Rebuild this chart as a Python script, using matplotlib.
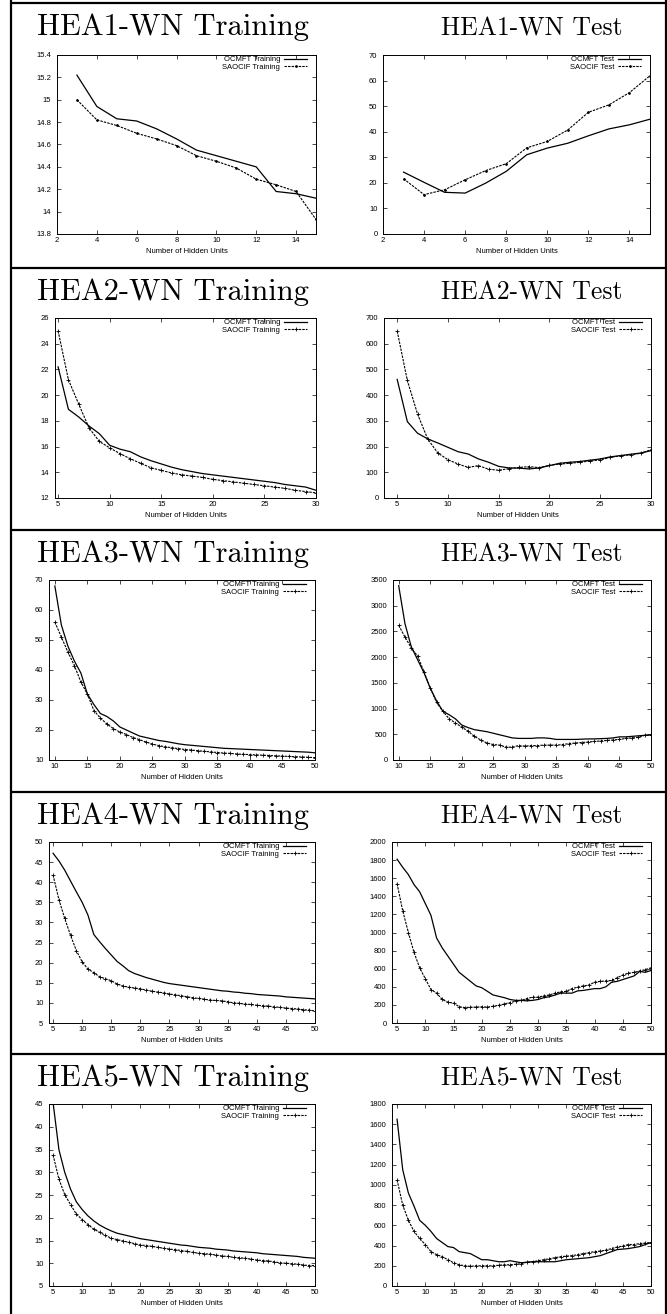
import matplotlib
matplotlib.use('Agg')
import matplotlib.pyplot as plt
from matplotlib.lines import Line2D
from matplotlib.ticker import MultipleLocator, FuncFormatter

W, H = 667, 1314

# HEA1-WN
hea1_units = list(range(3, 16))
hea1_train_ocmft = [15.22, 14.94, 14.83, 14.81, 14.74, 14.65, 14.55, 14.50, 14.45, 14.40, 14.18, 14.16, 14.12]
hea1_train_saocif = [15.00, 14.82, 14.77, 14.70, 14.65, 14.59, 14.50, 14.45, 14.39, 14.29, 14.24, 14.18, 13.93]
hea1_test_ocmft = [24.2, 20.2, 16.3, 16.0, 19.9, 24.5, 31.0, 33.6, 35.5, 38.4, 41.1, 42.7, 44.9]
hea1_test_saocif = [21.6, 15.4, 17.3, 21.2, 24.8, 27.5, 33.7, 36.2, 40.7, 47.6, 50.5, 55.3, 61.9]

# HEA2-WN
hea2_units = list(range(5, 31))
hea2_train_ocmft = [22.2, 18.9, 18.3, 17.6, 17.0, 16.1, 15.8, 15.6, 15.2, 14.9, 14.65, 14.4, 14.2,
                    14.05, 13.9, 13.8, 13.7, 13.6, 13.5, 13.4, 13.3, 13.2, 13.05, 12.95, 12.85, 12.6]
hea2_train_saocif = [25.0, 21.2, 19.3, 17.45, 16.4, 15.9, 15.45, 15.05, 14.7, 14.35, 14.15, 13.95, 13.8,
                     13.7, 13.6, 13.45, 13.35, 13.25, 13.15, 13.05, 12.95, 12.85, 12.75, 12.6, 12.5, 12.4]
hea2_test_ocmft = [461, 297, 252, 230, 214, 197, 180, 171, 152, 139, 123, 117, 116,
                   113, 117, 126, 135, 139, 142, 147, 152, 160, 165, 170, 175, 184]
hea2_test_saocif = [649, 457, 327, 230, 175, 149, 132, 119, 126, 112, 108, 114, 119,
                    122, 118, 127, 132, 135, 139, 144, 148, 158, 164, 168, 174, 188]

# HEA3-WN
hea3_units = list(range(10, 51))
hea3_train_ocmft = [68, 55, 48, 43, 39, 32, 28.5, 25.5, 24.5, 23, 21, 20, 19, 18, 17.5, 17, 16.5, 16.2,
                    15.8, 15.4, 15.1, 14.9, 14.7, 14.5, 14.3, 14.1, 13.9, 13.8, 13.7, 13.6, 13.5, 13.4,
                    13.3, 13.2, 13.1, 13.0, 12.9, 12.8, 12.7, 12.6, 12.4]
hea3_train_saocif = [56, 51, 46, 41.5, 36, 32, 26.5, 24, 22, 20.5, 19.3, 18.5, 17.5, 16.8, 16, 15.3, 14.8,
                     14.4, 14.1, 13.8, 13.5, 13.3, 13.1, 12.9, 12.7, 12.5, 12.3, 12.2, 12.0, 11.9, 11.8,
                     11.7, 11.6, 11.5, 11.4, 11.3, 11.2, 11.1, 11.0, 10.9, 10.8]
hea3_test_ocmft = [3390, 2650, 2200, 1950, 1700, 1400, 1150, 950, 880, 800, 680, 630, 590, 570, 550, 520,
                   490, 460, 430, 420, 420, 420, 430, 430, 420, 400, 400, 400, 400, 405, 410, 410, 415,
                   420, 430, 450, 450, 460, 470, 480, 490]
hea3_test_saocif = [2620, 2390, 2180, 2020, 1720, 1400, 1120, 950, 800, 720, 640, 560, 460, 390, 330, 300,
                    290, 250, 250, 280, 270, 280, 280, 290, 290, 290, 300, 320, 330, 340, 350, 360, 370,
                    380, 390, 400, 420, 430, 440, 480, 480]

# HEA4-WN
hea4_units = list(range(5, 51))
hea4_train_ocmft = [47.2, 45.3, 43, 40.3, 37.6, 35, 31.8, 27, 25.2, 23.5, 21.9, 20.3, 19.2, 18, 17.3, 16.8,
                    16.3, 15.9, 15.5, 15.1, 14.8, 14.6, 14.4, 14.2, 14.0, 13.8, 13.6, 13.4, 13.2, 13.0,
                    12.9, 12.7, 12.6, 12.4, 12.3, 12.1, 12.0, 11.9, 11.8, 11.7, 11.5, 11.4, 11.3, 11.2,
                    11.1, 11.0]
hea4_train_saocif = [41.8, 35.7, 31, 26.8, 23, 20.2, 18.4, 17.5, 16.5, 16, 15.5, 14.7, 14.2, 13.9, 13.7,
                     13.5, 13.2, 12.9, 12.7, 12.5, 12.2, 12.0, 11.8, 11.5, 11.3, 11.1, 10.9, 10.7, 10.6,
                     10.5, 10.3, 10.0, 9.9, 9.7, 9.6, 9.4, 9.3, 9.2, 9.0, 8.9, 8.7, 8.6, 8.5, 8.3, 8.2, 8.0]
hea4_test_ocmft = [1810, 1720, 1640, 1530, 1450, 1320, 1190, 940, 830, 740, 650, 560, 510, 460, 410, 390,
                   350, 310, 295, 280, 260, 250, 250, 245, 250, 260, 280, 290, 310, 330, 330, 330, 355,
                   360, 370, 380, 380, 400, 450, 460, 480, 500, 520, 570, 560, 580]
hea4_test_saocif = [1540, 1240, 1000, 780, 610, 490, 370, 330, 260, 230, 220, 180, 170, 175, 175, 180,
                    175, 185, 195, 210, 225, 240, 250, 270, 285, 285, 300, 310, 330, 345, 350, 380, 395,
                    410, 420, 450, 460, 465, 470, 500, 530, 550, 560, 575, 590, 610]

# HEA5-WN
hea5_units = list(range(5, 51))
hea5_train_ocmft = [45.3, 35, 30, 26.3, 23.5, 21.8, 20.4, 19.3, 18.4, 17.7, 17.1, 16.6, 16.3, 16.0, 15.7,
                    15.4, 15.2, 15.0, 14.8, 14.6, 14.4, 14.2, 14.0, 13.9, 13.7, 13.5, 13.4, 13.3, 13.1,
                    13.0, 12.9, 12.7, 12.6, 12.5, 12.4, 12.3, 12.1, 12.0, 11.9, 11.8, 11.7, 11.6, 11.5,
                    11.3, 11.2, 11.1]
hea5_train_saocif = [33.8, 28.5, 25.1, 22.9, 20.8, 19.6, 18.5, 17.5, 16.8, 16.1, 15.5, 15.2, 14.9, 14.6,
                     14.3, 14.0, 13.9, 13.7, 13.5, 13.3, 13.1, 13.0, 12.8, 12.6, 12.4, 12.2, 12.1, 12.0,
                     11.8, 11.6, 11.5, 11.3, 11.2, 11.1, 10.9, 10.7, 10.6, 10.5, 10.3, 10.1, 10.0, 9.9,
                     9.8, 9.6, 9.5, 9.5]
hea5_test_ocmft = [1650, 1150, 920, 790, 650, 600, 540, 470, 430, 390, 380, 340, 330, 320, 290, 260, 260,
                   250, 240, 240, 250, 240, 230, 235, 240, 240, 240, 240, 240, 250, 260, 265, 270, 275,
                   280, 290, 300, 320, 340, 360, 365, 370, 380, 390, 410, 430]
hea5_test_saocif = [1050, 800, 650, 540, 470, 410, 340, 310, 290, 260, 230, 210, 200, 195, 200, 200, 200,
                    200, 205, 210, 210, 215, 220, 235, 240, 250, 260, 270, 280, 290, 295, 300, 310, 320,
                    330, 340, 345, 355, 370, 385, 395, 410, 410, 420, 425, 430]

plt.rcParams['font.family'] = 'Liberation Sans'
fig = plt.figure(figsize=(W / 100, H / 100), dpi=100)

# row rules of the table, in pixels from the top
row_tops = [3, 268, 530, 792, 1054]


def px_line(x0, y0, x1, y1, lw=1.6):
    fig.add_artist(Line2D([x0 / W, x1 / W], [1 - y0 / H, 1 - y1 / H],
                          color='black', lw=lw, solid_capstyle='butt'))


def draw_panel(box, title, title_x, title_y, title_size, units, ocmft, saocif, kind,
               xlim, xstep, ylim, ystep, pt):
    l, t, r, b = box
    ax = fig.add_axes([l / W, 1 - b / H, (r - l) / W, (b - t) / H])
    ax.plot(units, ocmft, color='black', lw=0.9, label='OCMFT ' + kind)
    ax.plot(units, saocif, color='black', lw=0.8, ls=(0, (2.2, 1.0)),
            marker=pt, ms=2.6, mew=0.6, label='SAOCIF ' + kind)
    ax.set_xlim(xlim)
    ax.set_ylim(ylim)
    ax.xaxis.set_major_locator(MultipleLocator(xstep))
    ax.yaxis.set_major_locator(MultipleLocator(ystep))
    ax.yaxis.set_major_formatter(FuncFormatter(lambda v, p: '%g' % round(v, 6)))
    ax.xaxis.set_major_formatter(FuncFormatter(lambda v, p: '%g' % round(v, 6)))
    ax.tick_params(direction='in', length=3, width=0.5, labelsize=5.5,
                   top=True, right=True, pad=2.5)
    ax.tick_params(axis='y', pad=4)
    for s in ax.spines.values():
        s.set_linewidth(0.7)
    ax.set_xlabel('Number of Hidden Units', fontsize=5.5, labelpad=2.5)
    axw, axh = r - l, b - t
    ax.legend(loc='upper right', bbox_to_anchor=(1 - 9 / axw, 1 - 1 / axh),
              frameon=False, markerfirst=False, fontsize=5.5, handlelength=3.0,
              handletextpad=0.5, labelspacing=0.0, borderaxespad=0, borderpad=0,
              numpoints=1)
    fig.text(title_x / W, 1 - title_y / H, title, family='cmr10', fontsize=title_size,
             ha='center', va='baseline')
    return ax


panels = [
    # left column: training error
    ((57, 55, 316, 234), 'HEA1-WN Training', hea1_units, hea1_train_ocmft, hea1_train_saocif,
     'Training', (2, 15), 2, (13.8, 15.4), 0.2, '.'),
    ((55, 318, 316, 498), 'HEA2-WN Training', hea2_units, hea2_train_ocmft, hea2_train_saocif,
     'Training', (4.7, 30), 5, (12, 26), 2, '+'),
    ((49, 580, 315, 760), 'HEA3-WN Training', hea3_units, hea3_train_ocmft, hea3_train_saocif,
     'Training', (9.1, 50), 5, (10, 70), 10, '+'),
    ((49, 842, 315, 1023), 'HEA4-WN Training', hea4_units, hea4_train_ocmft, hea4_train_saocif,
     'Training', (4.3, 50), 5, (5, 50), 5, '+'),
    ((49, 1104, 315, 1286), 'HEA5-WN Training', hea5_units, hea5_train_ocmft, hea5_train_saocif,
     'Training', (4.3, 50), 5, (5, 45), 5, '+'),
    # right column: test error
    ((383, 55, 650, 234), 'HEA1-WN Test', hea1_units, hea1_test_ocmft, hea1_test_saocif,
     'Test', (2, 15), 2, (0, 70), 10, '.'),
    ((384, 318, 651, 498), 'HEA2-WN Test', hea2_units, hea2_test_ocmft, hea2_test_saocif,
     'Test', (3.7, 30), 5, (0, 700), 100, '+'),
    ((393, 580, 651, 760), 'HEA3-WN Test', hea3_units, hea3_test_ocmft, hea3_test_saocif,
     'Test', (9.1, 50), 5, (0, 3500), 500, '+'),
    ((392, 842, 651, 1023), 'HEA4-WN Test', hea4_units, hea4_test_ocmft, hea4_test_saocif,
     'Test', (4.1, 50), 5, (0, 2000), 200, '+'),
    ((392, 1104, 651, 1286), 'HEA5-WN Test', hea5_units, hea5_test_ocmft, hea5_test_saocif,
     'Test', (4.1, 50), 5, (0, 1800), 200, '+'),
]

for i, (box, title, units, oc, sa, kind, xlim, xstep, ylim, ystep, pt) in enumerate(panels):
    row = i % 5
    if kind == 'Training':
        tx, tsize = 173, 22
    else:
        tx, tsize = 532, 18.5
    draw_panel(box, title, tx, row_tops[row] + 32, tsize, units, oc, sa, kind,
               xlim, xstep, ylim, ystep, pt)

# table rules
for y in row_tops:
    px_line(11, y, W, y)
px_line(11, 0, 11, H)
px_line(W - 1, 0, W - 1, H)

fig.savefig('out.png', dpi=100)
